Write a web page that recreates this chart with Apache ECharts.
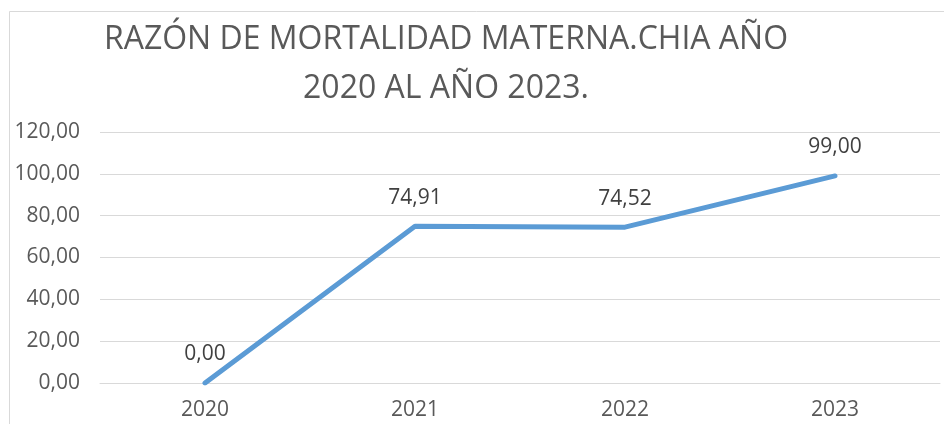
<!DOCTYPE html>
<html lang="es" style="height: 100%">
<head>
  <meta charset="utf-8">
</head>
<body style="height: 100%; margin: 0; background: #fff">
  <div id="container" style="width: 944px; height: 424px"></div>
  <script type="text/javascript" src="https://cdn.jsdelivr.net/npm/echarts@6/dist/echarts.min.js"></script>
  <script type="text/javascript">
    const years = ['2020', '2021', '2022', '2023'];
    const razon = [0.00, 74.91, 74.52, 99.00];
    const titleText = 'RAZÓN DE MORTALIDAD MATERNA.CHIA AÑO\n2020 AL AÑO 2023.';

    function fmt(v) {
      return Number(v).toFixed(2).replace('.', ',');
    }

    var dom = document.getElementById('container');
    var myChart = echarts.init(dom, null, { renderer: 'canvas' });

    var option = {
      animation: false,
      backgroundColor: '#fff',
      title: {
        text: titleText,
        left: 441,
        top: 10,
        textAlign: 'center',
        textStyle: {
          color: '#595959',
          fontFamily: 'Open Sans',
          fontWeight: 'normal',
          fontSize: 32,
          lineHeight: 49
        }
      },
      // chart frame: only top and left edges are visible
      graphic: [
        {
          type: 'line',
          shape: { x1: 9.5, y1: 11.5, x2: 944, y2: 11.5 },
          style: { stroke: '#d9d9d9', lineWidth: 1 },
          silent: true
        },
        {
          type: 'line',
          shape: { x1: 9.5, y1: 11.5, x2: 9.5, y2: 424 },
          style: { stroke: '#d9d9d9', lineWidth: 1 },
          silent: true
        }
      ],
      grid: {
        left: 100,
        right: 4,
        top: 132,
        bottom: 41
      },
      xAxis: {
        type: 'category',
        data: years,
        boundaryGap: true,
        axisLine: { lineStyle: { color: '#d9d9d9' } },
        axisTick: { show: false },
        axisLabel: {
          color: '#595959',
          fontFamily: 'Open Sans',
          fontSize: 21,
          margin: 17
        }
      },
      yAxis: {
        type: 'value',
        min: 0,
        max: 120,
        interval: 20,
        axisLine: { show: false },
        axisTick: { show: false },
        splitLine: { lineStyle: { color: '#d9d9d9', width: 1 } },
        axisLabel: {
          color: '#595959',
          fontFamily: 'Open Sans',
          fontSize: 21,
          margin: 20,
          formatter: fmt
        }
      },
      series: [
        {
          type: 'line',
          data: razon,
          symbol: 'circle',
          symbolSize: 2,
          showSymbol: true,
          itemStyle: { color: 'rgba(0,0,0,0)', borderWidth: 0 },
          lineStyle: { color: '#5b9bd5', width: 5, cap: 'round', join: 'round' },
          label: {
            show: true,
            position: 'top',
            distance: 17,
            color: '#404040',
            fontFamily: 'Open Sans',
            fontSize: 21,
            formatter: function (p) { return fmt(p.value); }
          },
          labelLayout: { hideOverlap: false }
        }
      ]
    };

    myChart.setOption(option);
    window.addEventListener('resize', myChart.resize);
  </script>
</body>
</html>
